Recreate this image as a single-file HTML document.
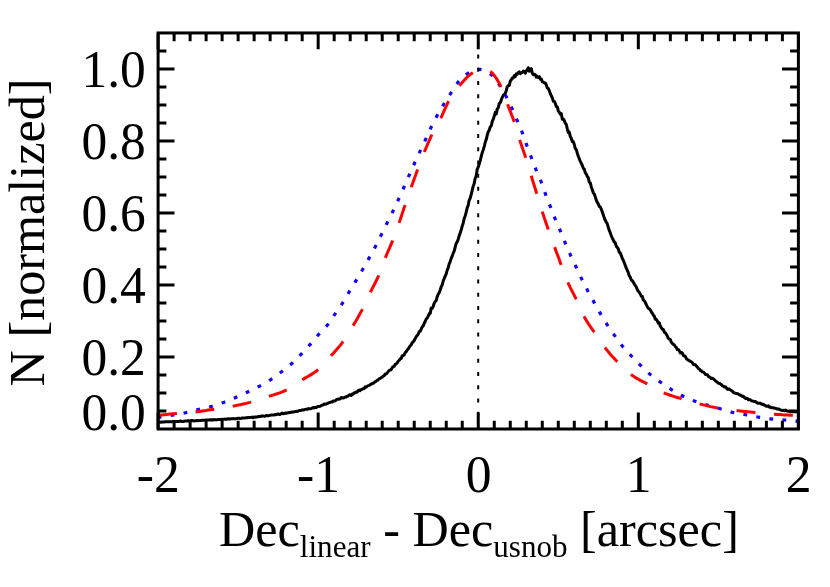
<!DOCTYPE html>
<html><head><meta charset="utf-8"><title>plot</title>
<style>
html,body{margin:0;padding:0;background:#fff;}
svg{display:block;}
text{font-family:"Liberation Serif",serif;font-size:50.2px;fill:#000;white-space:pre;}
</style></head>
<body>
<svg style="will-change:transform" width="830" height="587" viewBox="0 0 830 587">
<rect width="830" height="587" fill="#fff"/>
<path d="M158.1 422.1 L159.1 422.0 L160.1 422.0 L161.1 422.2 L162.1 421.9 L163.1 421.9 L164.1 422.0 L165.1 421.8 L166.1 421.8 L167.1 421.8 L168.1 421.8 L169.1 421.7 L170.1 421.8 L171.1 421.7 L172.1 421.7 L173.1 421.5 L174.1 421.5 L175.1 421.5 L176.1 421.6 L177.1 421.5 L178.1 421.4 L179.1 421.4 L180.1 421.1 L181.1 421.1 L182.1 421.6 L183.1 421.5 L184.1 421.2 L185.1 421.1 L186.1 421.0 L187.1 421.0 L188.1 420.6 L189.1 421.1 L190.1 420.9 L191.1 420.5 L192.1 420.7 L193.1 420.6 L194.1 420.8 L195.1 420.9 L196.1 420.6 L197.1 420.5 L198.1 420.7 L199.1 420.6 L200.1 420.4 L201.1 420.5 L202.1 420.3 L203.1 420.3 L204.1 420.2 L205.1 420.3 L206.1 420.0 L207.1 419.9 L208.1 420.0 L209.1 420.1 L210.1 419.8 L211.1 420.0 L212.1 419.7 L213.1 420.0 L214.1 419.6 L215.1 419.7 L216.1 419.9 L217.1 419.7 L218.1 419.6 L219.1 419.5 L220.1 419.6 L221.1 419.6 L222.1 419.3 L223.1 419.4 L224.1 419.2 L225.1 419.1 L226.1 419.4 L227.1 419.0 L228.1 418.8 L229.1 419.0 L230.1 419.1 L231.1 418.7 L232.1 418.8 L233.1 418.6 L234.1 418.7 L235.1 418.9 L236.1 418.6 L237.1 418.6 L238.1 418.3 L239.1 418.3 L240.1 418.6 L241.1 418.4 L242.1 418.0 L243.1 417.9 L244.1 418.1 L245.1 417.9 L246.1 417.7 L247.1 417.7 L248.1 417.5 L249.1 417.5 L250.1 417.5 L251.1 417.4 L252.1 417.1 L253.1 417.7 L254.1 417.1 L255.1 417.0 L256.1 417.2 L257.1 416.8 L258.1 416.8 L259.1 416.4 L260.1 416.5 L261.1 416.2 L262.1 416.0 L263.1 416.1 L264.1 416.2 L265.2 416.2 L266.2 415.4 L267.2 415.7 L268.2 415.7 L269.2 415.4 L270.2 415.3 L271.2 415.0 L272.2 415.0 L273.2 414.9 L274.2 414.9 L275.2 414.5 L276.2 414.7 L277.2 414.2 L278.2 413.9 L279.2 414.4 L280.2 414.5 L281.2 413.6 L282.2 413.1 L283.2 413.7 L284.2 413.6 L285.2 413.0 L286.2 413.2 L287.2 413.0 L288.2 412.8 L289.2 412.4 L290.2 412.5 L291.2 412.2 L292.2 412.1 L293.2 412.1 L294.2 411.8 L295.2 411.7 L296.2 411.3 L297.2 411.4 L298.2 411.2 L299.2 410.4 L300.2 410.5 L301.2 410.3 L302.2 410.0 L303.2 410.0 L304.2 409.7 L305.2 409.4 L306.2 409.2 L307.2 409.4 L308.2 408.6 L309.2 408.8 L310.2 408.7 L311.2 408.5 L312.2 408.1 L313.2 407.4 L314.2 407.9 L315.2 407.3 L316.2 407.7 L317.2 406.9 L318.2 406.4 L319.2 406.4 L320.2 406.2 L321.2 405.6 L322.2 405.2 L323.2 404.8 L324.2 404.1 L325.2 404.2 L326.2 404.1 L327.2 403.5 L328.2 403.1 L329.2 402.7 L330.2 402.3 L331.2 401.9 L332.2 402.1 L333.2 400.9 L334.2 401.0 L335.2 400.8 L336.2 399.9 L337.2 399.3 L338.2 399.3 L339.2 399.0 L340.2 399.0 L341.2 397.5 L342.2 397.8 L343.2 398.0 L344.2 397.6 L345.2 396.9 L346.2 397.1 L347.2 396.2 L348.2 396.0 L349.2 395.0 L350.2 394.7 L351.2 395.5 L352.2 394.1 L353.2 394.2 L354.2 392.8 L355.2 392.7 L356.2 392.0 L357.2 392.1 L358.2 390.6 L359.2 390.0 L360.2 390.6 L361.2 389.5 L362.2 389.3 L363.2 388.6 L364.2 388.5 L365.2 386.8 L366.2 387.2 L367.2 386.4 L368.2 385.6 L369.2 385.4 L370.2 384.7 L371.2 384.2 L372.2 383.5 L373.2 383.3 L374.2 382.4 L375.2 381.7 L376.2 381.1 L377.2 380.3 L378.2 379.8 L379.2 378.7 L380.2 378.4 L381.2 377.6 L382.2 377.1 L383.2 376.2 L384.2 375.7 L385.2 374.1 L386.2 374.0 L387.2 372.9 L388.2 371.5 L389.2 370.6 L390.2 369.9 L391.2 369.7 L392.2 367.6 L393.2 366.6 L394.2 366.3 L395.2 364.3 L396.2 363.8 L397.2 362.9 L398.2 361.3 L399.2 360.3 L400.2 358.9 L401.2 358.6 L402.2 355.7 L403.2 355.7 L404.2 354.8 L405.2 352.5 L406.2 351.6 L407.2 350.0 L408.2 348.9 L409.2 347.4 L410.2 345.8 L411.2 344.9 L412.2 342.7 L413.2 341.8 L414.2 340.5 L415.2 338.5 L416.2 336.7 L417.2 335.5 L418.2 334.2 L419.2 331.7 L420.2 331.4 L421.2 329.2 L422.2 326.9 L423.2 325.9 L424.2 323.3 L425.2 321.5 L426.2 319.0 L427.2 318.2 L428.2 316.2 L429.2 313.7 L430.2 313.4 L431.2 308.0 L432.2 308.4 L433.2 306.3 L434.2 303.2 L435.2 301.6 L436.2 300.5 L437.2 296.7 L438.2 294.2 L439.2 292.6 L440.2 290.0 L441.2 286.7 L442.2 284.9 L443.2 281.1 L444.2 278.4 L445.2 276.1 L446.2 273.8 L447.2 270.2 L448.2 267.9 L449.2 263.8 L450.2 261.6 L451.2 258.4 L452.2 256.1 L453.2 253.1 L454.2 251.1 L455.2 247.1 L456.2 243.3 L457.2 241.9 L458.2 239.2 L459.2 235.8 L460.2 233.0 L461.2 230.0 L462.2 226.1 L463.2 223.2 L464.2 218.3 L465.2 216.0 L466.2 212.1 L467.2 207.9 L468.2 205.3 L469.2 200.1 L470.2 198.2 L471.2 194.5 L472.2 190.3 L473.2 186.2 L474.2 183.5 L475.2 178.3 L476.2 176.0 L477.2 169.3 L478.3 166.9 L479.3 163.7 L480.3 160.3 L481.3 156.2 L482.3 152.4 L483.3 149.7 L484.3 146.1 L485.3 142.1 L486.3 139.3 L487.3 134.9 L488.3 131.7 L489.3 129.9 L490.3 126.7 L491.3 125.7 L492.3 121.1 L493.3 119.1 L494.3 116.0 L495.3 112.4 L496.3 113.9 L497.3 108.9 L498.3 107.7 L499.3 103.3 L500.3 102.8 L501.3 99.8 L502.3 97.3 L503.3 95.4 L504.3 94.4 L505.3 93.3 L506.3 90.5 L507.3 86.7 L508.3 85.6 L509.3 85.5 L510.3 81.0 L511.3 79.8 L512.3 77.9 L513.3 78.0 L514.3 75.6 L515.3 76.6 L516.3 73.9 L517.3 74.3 L518.3 72.5 L519.3 71.9 L520.3 73.6 L521.3 72.7 L522.3 72.5 L523.3 71.1 L524.3 71.5 L525.3 73.2 L526.3 70.9 L527.3 69.9 L528.3 67.7 L529.3 71.3 L530.3 69.9 L531.3 68.6 L532.3 73.2 L533.3 74.8 L534.3 74.3 L535.3 74.6 L536.3 77.1 L537.3 76.4 L538.3 77.5 L539.3 76.7 L540.3 79.1 L541.3 78.9 L542.3 81.8 L543.3 82.0 L544.3 83.0 L545.3 82.9 L546.3 84.9 L547.3 88.0 L548.3 88.5 L549.3 90.6 L550.3 93.6 L551.3 95.8 L552.3 97.7 L553.3 101.3 L554.3 101.4 L555.3 103.4 L556.3 106.5 L557.3 106.9 L558.3 111.0 L559.3 112.2 L560.3 114.1 L561.3 113.6 L562.3 119.2 L563.3 119.0 L564.3 120.6 L565.3 123.2 L566.3 124.5 L567.3 128.9 L568.3 132.6 L569.3 132.1 L570.3 136.6 L571.3 138.2 L572.3 141.5 L573.3 141.8 L574.3 144.5 L575.3 148.6 L576.3 149.7 L577.3 153.2 L578.3 156.2 L579.3 158.7 L580.3 161.5 L581.3 163.1 L582.3 165.6 L583.3 168.3 L584.3 169.2 L585.3 172.8 L586.3 174.1 L587.3 176.3 L588.3 177.8 L589.3 182.2 L590.3 182.8 L591.3 186.9 L592.3 189.8 L593.3 192.8 L594.3 194.1 L595.3 196.9 L596.3 200.2 L597.3 202.4 L598.3 204.1 L599.3 206.4 L600.3 207.1 L601.3 209.2 L602.3 212.0 L603.3 214.9 L604.3 218.1 L605.3 220.3 L606.3 222.2 L607.3 223.8 L608.3 227.3 L609.3 230.7 L610.3 232.9 L611.3 235.7 L612.3 238.3 L613.3 240.1 L614.3 242.0 L615.3 242.9 L616.3 246.4 L617.3 247.4 L618.3 249.0 L619.3 252.2 L620.3 253.0 L621.3 255.6 L622.3 258.5 L623.3 260.2 L624.3 262.8 L625.3 265.5 L626.3 268.1 L627.3 270.4 L628.3 272.7 L629.3 275.9 L630.3 277.2 L631.3 280.1 L632.3 280.6 L633.3 282.1 L634.3 284.0 L635.3 285.6 L636.3 287.0 L637.3 289.6 L638.3 291.2 L639.3 292.5 L640.3 294.0 L641.3 296.2 L642.3 296.5 L643.3 300.0 L644.3 300.9 L645.3 302.3 L646.3 304.7 L647.3 306.7 L648.3 308.3 L649.3 308.9 L650.3 309.8 L651.3 311.8 L652.3 313.3 L653.3 315.1 L654.3 316.1 L655.3 319.2 L656.3 319.3 L657.3 320.9 L658.3 323.2 L659.3 322.7 L660.3 326.2 L661.3 327.6 L662.3 329.2 L663.3 329.4 L664.3 332.1 L665.3 332.7 L666.3 334.3 L667.3 336.0 L668.3 338.3 L669.3 339.3 L670.3 339.4 L671.3 342.3 L672.3 343.4 L673.3 344.3 L674.3 345.0 L675.3 346.5 L676.3 347.4 L677.3 349.5 L678.3 349.5 L679.3 350.8 L680.3 352.9 L681.3 352.4 L682.3 353.0 L683.3 355.4 L684.3 356.0 L685.3 356.3 L686.3 358.5 L687.3 359.6 L688.3 360.1 L689.3 360.6 L690.3 361.5 L691.3 361.7 L692.4 362.8 L693.4 364.4 L694.4 364.5 L695.4 364.8 L696.4 366.1 L697.4 367.2 L698.4 368.5 L699.4 369.0 L700.4 370.7 L701.4 370.8 L702.4 371.9 L703.4 372.1 L704.4 373.0 L705.4 374.4 L706.4 374.5 L707.4 374.7 L708.4 376.4 L709.4 376.8 L710.4 377.6 L711.4 378.6 L712.4 378.3 L713.4 378.9 L714.4 379.8 L715.4 380.8 L716.4 381.6 L717.4 382.2 L718.4 383.3 L719.4 383.4 L720.4 384.0 L721.4 384.6 L722.4 385.8 L723.4 386.2 L724.4 386.9 L725.4 386.8 L726.4 388.0 L727.4 389.3 L728.4 389.0 L729.4 389.1 L730.4 390.0 L731.4 390.5 L732.4 391.3 L733.4 392.5 L734.4 393.0 L735.4 393.3 L736.4 393.4 L737.4 393.7 L738.4 394.0 L739.4 394.9 L740.4 394.9 L741.4 395.8 L742.4 396.4 L743.4 396.3 L744.4 397.4 L745.4 398.4 L746.4 398.3 L747.4 398.4 L748.4 399.8 L749.4 399.4 L750.4 399.8 L751.4 400.6 L752.4 401.0 L753.4 401.2 L754.4 401.6 L755.4 401.5 L756.4 402.2 L757.4 403.1 L758.4 403.3 L759.4 403.2 L760.4 403.2 L761.4 404.0 L762.4 404.4 L763.4 404.3 L764.4 405.2 L765.4 405.6 L766.4 406.2 L767.4 406.3 L768.4 405.9 L769.4 407.2 L770.4 407.1 L771.4 407.8 L772.4 407.7 L773.4 407.7 L774.4 408.3 L775.4 408.3 L776.4 408.6 L777.4 409.0 L778.4 408.9 L779.4 409.4 L780.4 409.9 L781.4 410.2 L782.4 410.4 L783.4 410.3 L784.4 410.7 L785.4 410.1 L786.4 410.5 L787.4 411.1 L788.4 411.3 L789.4 410.9 L790.4 411.9 L791.4 411.6 L792.4 411.3 L793.4 411.8 L794.4 411.7 L795.4 411.8 L796.4 411.5 L797.4 411.7 L798.4 411.6" fill="none" stroke="#000" stroke-width="3" stroke-linejoin="round"/>
<path d="M158.1 417.3 L160.1 417.1 L162.1 416.8 L164.1 416.5 L166.1 416.2 L168.1 415.9 L170.1 415.6 L172.1 415.2 L174.1 414.9 L176.1 414.5 L178.1 414.1 L180.1 413.8 L182.1 413.4 L184.1 413.0 L186.1 412.6 L188.1 412.1 L190.1 411.6 L192.1 411.1 L194.1 410.6 L196.1 410.1 L198.1 409.6 L200.1 409.1 L202.1 408.7 L204.1 408.2 L206.1 407.7 L208.1 407.3 L210.1 406.8 L212.1 406.2 L214.1 405.6 L216.1 405.0 L218.1 404.4 L220.1 403.7 L222.1 403.0 L224.1 402.3 L226.1 401.5 L228.1 400.7 L230.1 399.9 L232.1 399.0 L234.1 398.2 L236.1 397.3 L238.1 396.4 L240.1 395.6 L242.1 394.6 L244.1 393.7 L246.1 392.8 L248.1 391.8 L250.1 390.9 L252.1 389.9 L254.1 388.9 L256.1 387.9 L258.1 386.9 L260.1 385.8 L262.1 384.7 L264.1 383.6 L266.2 382.5 L268.2 381.3 L270.2 380.0 L272.2 378.7 L274.2 377.3 L276.2 375.8 L278.2 374.3 L280.2 372.8 L282.2 371.3 L284.2 369.7 L286.2 368.2 L288.2 366.6 L290.2 364.9 L292.2 363.2 L294.2 361.3 L296.2 359.3 L298.2 357.3 L300.2 355.2 L302.2 353.1 L304.2 351.0 L306.2 348.8 L308.2 346.6 L310.2 344.4 L312.2 342.0 L314.2 339.6 L316.2 337.2 L318.2 334.9 L320.2 332.8 L322.2 330.8 L324.2 328.7 L326.2 326.5 L328.2 324.0 L330.2 321.2 L332.2 318.2 L334.2 315.2 L336.2 312.3 L338.2 309.5 L340.2 306.6 L342.2 303.6 L344.2 300.4 L346.2 297.0 L348.2 293.5 L350.2 290.2 L352.2 286.9 L354.2 283.7 L356.2 280.4 L358.2 277.0 L360.2 273.6 L362.2 270.2 L364.2 266.7 L366.2 263.2 L368.2 259.6 L370.2 256.1 L372.2 252.5 L374.2 248.9 L376.2 245.1 L378.2 241.1 L380.2 237.0 L382.2 233.0 L384.2 228.9 L386.2 224.8 L388.2 220.8 L390.2 216.8 L392.2 212.8 L394.2 208.6 L396.2 204.4 L398.2 200.0 L400.2 195.6 L402.2 191.1 L404.2 186.5 L406.2 182.0 L408.2 177.5 L410.2 172.9 L412.2 168.4 L414.2 164.0 L416.2 159.6 L418.2 155.2 L420.2 150.9 L422.2 146.6 L424.2 142.4 L426.2 138.1 L428.2 133.6 L430.2 129.1 L432.2 125.0 L434.2 121.0 L436.2 117.3 L438.2 113.7 L440.2 110.2 L442.2 106.8 L444.2 103.5 L446.2 100.3 L448.2 97.2 L450.2 94.2 L452.2 91.1 L454.2 87.9 L456.2 84.7 L458.2 82.1 L460.2 79.9 L462.2 77.9 L464.2 76.0 L466.2 74.5 L468.2 73.2 L470.2 72.2 L472.2 71.2 L474.2 70.3 L476.2 69.6 L478.2 69.3 L480.3 69.4 L482.3 69.9 L484.3 70.7 L486.3 71.6 L488.3 72.8 L490.3 74.0 L492.3 75.5 L494.3 77.7 L496.3 80.3 L498.3 83.2 L500.3 86.5 L502.3 89.9 L504.3 93.3 L506.3 96.8 L508.3 100.6 L510.3 104.7 L512.3 109.1 L514.3 113.7 L516.3 118.4 L518.3 123.1 L520.3 127.8 L522.3 132.7 L524.3 138.4 L526.3 144.1 L528.3 149.5 L530.3 154.8 L532.3 160.1 L534.3 165.5 L536.3 170.5 L538.3 175.0 L540.3 179.5 L542.3 184.9 L544.3 190.9 L546.3 196.4 L548.3 201.5 L550.3 206.5 L552.3 211.7 L554.3 216.8 L556.3 221.6 L558.3 226.2 L560.3 230.8 L562.3 235.8 L564.3 240.7 L566.3 245.5 L568.3 250.2 L570.3 254.7 L572.3 259.1 L574.3 263.3 L576.3 267.5 L578.3 271.8 L580.3 276.0 L582.3 280.2 L584.3 284.2 L586.3 288.1 L588.3 291.9 L590.3 295.6 L592.3 299.2 L594.3 302.8 L596.3 306.4 L598.3 309.9 L600.3 313.4 L602.3 316.8 L604.3 320.2 L606.3 323.4 L608.3 326.5 L610.3 329.5 L612.3 332.3 L614.3 335.1 L616.3 337.9 L618.3 340.7 L620.3 343.4 L622.3 346.0 L624.3 348.4 L626.3 350.6 L628.3 352.8 L630.3 354.9 L632.3 357.0 L634.3 359.1 L636.3 361.1 L638.3 363.2 L640.3 365.1 L642.3 367.1 L644.3 369.1 L646.3 371.0 L648.3 372.8 L650.3 374.5 L652.3 376.1 L654.3 377.7 L656.3 379.1 L658.3 380.5 L660.3 382.0 L662.3 383.4 L664.3 384.8 L666.3 386.2 L668.3 387.5 L670.3 388.8 L672.3 390.1 L674.3 391.3 L676.3 392.5 L678.3 393.7 L680.3 394.8 L682.3 395.8 L684.3 396.8 L686.3 397.7 L688.3 398.7 L690.3 399.5 L692.4 400.4 L694.4 401.1 L696.4 401.8 L698.4 402.5 L700.4 403.2 L702.4 403.8 L704.4 404.3 L706.4 404.9 L708.4 405.5 L710.4 406.0 L712.4 406.6 L714.4 407.1 L716.4 407.7 L718.4 408.2 L720.4 408.8 L722.4 409.4 L724.4 410.1 L726.4 410.7 L728.4 411.3 L730.4 411.9 L732.4 412.4 L734.4 412.8 L736.4 413.2 L738.4 413.5 L740.4 413.9 L742.4 414.2 L744.4 414.5 L746.4 414.9 L748.4 415.3 L750.4 415.7 L752.4 416.1 L754.4 416.5 L756.4 416.8 L758.4 417.2 L760.4 417.5 L762.4 417.8 L764.4 418.1 L766.4 418.4 L768.4 418.7 L770.4 418.9 L772.4 419.1 L774.4 419.3 L776.4 419.4 L778.4 419.6 L780.4 419.7 L782.4 419.9 L784.4 420.0 L786.4 420.2 L788.4 420.4 L790.4 420.6 L792.4 420.8 L794.4 421.0 L796.4 421.2 L798.4 421.4" fill="none" stroke="#1400ff" stroke-width="3.2" stroke-dasharray="3.8 9.345" stroke-dashoffset="0.5"/>
<path d="M158.1 415.4 L160.1 415.1 L162.1 414.9 L164.1 414.7 L166.1 414.5 L168.1 414.2 L170.1 414.0 L172.1 413.8 L174.1 413.7 L176.1 413.5 L178.1 413.3 L180.1 413.1 L182.1 413.0 L184.1 412.8 L186.1 412.7 L188.1 412.6 L190.1 412.4 L192.1 412.2 L194.1 412.1 L196.1 411.9 L198.1 411.6 L200.1 411.4 L202.1 411.1 L204.1 410.8 L206.1 410.5 L208.1 410.1 L210.1 409.8 L212.1 409.5 L214.1 409.2 L216.1 408.9 L218.1 408.6 L220.1 408.2 L222.1 407.9 L224.1 407.6 L226.1 407.3 L228.1 407.0 L230.1 406.6 L232.1 406.2 L234.1 405.9 L236.1 405.5 L238.1 405.1 L240.1 404.7 L242.1 404.3 L244.1 403.8 L246.1 403.4 L248.1 402.9 L250.1 402.4 L252.1 401.8 L254.1 401.3 L256.1 400.6 L258.1 400.0 L260.1 399.3 L262.1 398.7 L264.1 398.0 L266.2 397.3 L268.2 396.6 L270.2 395.9 L272.2 395.3 L274.2 394.6 L276.2 394.0 L278.2 393.3 L280.2 392.6 L282.2 391.8 L284.2 391.0 L286.2 390.1 L288.2 389.1 L290.2 387.9 L292.2 386.6 L294.2 385.2 L296.2 383.8 L298.2 382.4 L300.2 381.1 L302.2 379.8 L304.2 378.6 L306.2 377.4 L308.2 376.3 L310.2 375.1 L312.2 373.9 L314.2 372.6 L316.2 371.2 L318.2 369.6 L320.2 367.8 L322.2 365.8 L324.2 363.6 L326.2 361.3 L328.2 358.9 L330.2 356.6 L332.2 354.4 L334.2 352.2 L336.2 350.0 L338.2 347.7 L340.2 345.4 L342.2 342.8 L344.2 340.1 L346.2 337.1 L348.2 333.8 L350.2 330.5 L352.2 327.1 L354.2 323.8 L356.2 320.4 L358.2 316.9 L360.2 313.3 L362.2 309.6 L364.2 305.5 L366.2 301.2 L368.2 296.8 L370.2 292.5 L372.2 288.6 L374.2 284.8 L376.2 280.9 L378.2 276.7 L380.2 271.8 L382.2 266.3 L384.2 260.7 L386.2 255.6 L388.2 251.0 L390.2 246.4 L392.2 241.7 L394.2 236.5 L396.2 231.1 L398.2 225.4 L400.2 219.7 L402.2 213.6 L404.2 207.5 L406.2 201.7 L408.2 196.0 L410.2 190.2 L412.2 184.6 L414.2 179.0 L416.2 173.4 L418.2 168.0 L420.2 162.7 L422.2 157.5 L424.2 152.4 L426.2 147.5 L428.2 142.8 L430.2 138.3 L432.2 134.0 L434.2 130.2 L436.2 126.6 L438.2 123.0 L440.2 119.3 L442.2 115.2 L444.2 110.7 L446.2 106.1 L448.2 102.0 L450.2 98.5 L452.2 95.3 L454.2 92.4 L456.2 89.6 L458.2 87.1 L460.2 84.7 L462.2 82.4 L464.2 80.2 L466.2 78.1 L468.2 76.2 L470.2 74.5 L472.2 73.1 L474.2 71.9 L476.2 70.7 L478.2 69.7 L480.3 69.1 L482.3 69.0 L484.3 69.3 L486.3 69.9 L488.3 70.7 L490.3 71.6 L492.3 73.2 L494.3 75.4 L496.3 78.3 L498.3 81.6 L500.3 85.2 L502.3 89.4 L504.3 94.9 L506.3 100.9 L508.3 106.4 L510.3 111.5 L512.3 116.6 L514.3 122.1 L516.3 128.6 L518.3 135.5 L520.3 141.9 L522.3 147.7 L524.3 153.4 L526.3 159.5 L528.3 166.1 L530.3 172.9 L532.3 179.4 L534.3 185.8 L536.3 192.2 L538.3 198.8 L540.3 205.3 L542.3 211.8 L544.3 217.9 L546.3 223.8 L548.3 229.5 L550.3 235.2 L552.3 240.7 L554.3 246.2 L556.3 251.7 L558.3 257.1 L560.3 262.5 L562.3 267.8 L564.3 273.3 L566.3 278.5 L568.3 283.4 L570.3 287.6 L572.3 291.5 L574.3 295.4 L576.3 299.4 L578.3 303.8 L580.3 308.4 L582.3 312.9 L584.3 316.9 L586.3 320.4 L588.3 323.6 L590.3 326.5 L592.3 329.3 L594.3 332.2 L596.3 335.2 L598.3 338.2 L600.3 341.1 L602.3 344.0 L604.3 346.7 L606.3 349.3 L608.3 351.8 L610.3 354.2 L612.3 356.4 L614.3 358.6 L616.3 360.8 L618.3 362.8 L620.3 364.9 L622.3 366.9 L624.3 368.8 L626.3 370.7 L628.3 372.4 L630.3 374.1 L632.3 375.5 L634.3 376.8 L636.3 378.1 L638.3 379.2 L640.3 380.3 L642.3 381.3 L644.3 382.4 L646.3 383.4 L648.3 384.5 L650.3 385.6 L652.3 386.7 L654.3 387.9 L656.3 389.0 L658.3 390.1 L660.3 391.1 L662.3 392.1 L664.3 393.0 L666.3 393.8 L668.3 394.5 L670.3 395.3 L672.3 395.9 L674.3 396.6 L676.3 397.2 L678.3 397.8 L680.3 398.4 L682.3 399.1 L684.3 399.7 L686.3 400.3 L688.3 400.9 L690.3 401.4 L692.4 402.0 L694.4 402.6 L696.4 403.1 L698.4 403.6 L700.4 404.1 L702.4 404.6 L704.4 405.1 L706.4 405.6 L708.4 406.1 L710.4 406.6 L712.4 407.0 L714.4 407.4 L716.4 407.8 L718.4 408.1 L720.4 408.5 L722.4 408.8 L724.4 409.1 L726.4 409.3 L728.4 409.6 L730.4 409.8 L732.4 410.1 L734.4 410.3 L736.4 410.5 L738.4 410.8 L740.4 411.0 L742.4 411.2 L744.4 411.4 L746.4 411.6 L748.4 411.8 L750.4 412.0 L752.4 412.2 L754.4 412.4 L756.4 412.6 L758.4 412.8 L760.4 413.0 L762.4 413.2 L764.4 413.4 L766.4 413.6 L768.4 413.7 L770.4 413.9 L772.4 414.1 L774.4 414.2 L776.4 414.4 L778.4 414.5 L780.4 414.6 L782.4 414.8 L784.4 414.9 L786.4 415.0 L788.4 415.1 L790.4 415.2 L792.4 415.3 L794.4 415.4 L796.4 415.4 L798.4 415.5" fill="none" stroke="#ff0000" stroke-width="3" stroke-dasharray="18.9 18.7"/>
<line x1="478.2" y1="429.0" x2="478.2" y2="32.95" stroke="#000" stroke-width="2" stroke-dasharray="4 9.23"/>
<path d="M158.10 429.0 v-16.4 M158.10 32.95 v16.4 M174.11 429.0 v-8.3 M174.11 32.95 v8.3 M190.12 429.0 v-8.3 M190.12 32.95 v8.3 M206.12 429.0 v-8.3 M206.12 32.95 v8.3 M222.13 429.0 v-8.3 M222.13 32.95 v8.3 M238.14 429.0 v-8.3 M238.14 32.95 v8.3 M254.14 429.0 v-8.3 M254.14 32.95 v8.3 M270.15 429.0 v-8.3 M270.15 32.95 v8.3 M286.16 429.0 v-8.3 M286.16 32.95 v8.3 M302.17 429.0 v-8.3 M302.17 32.95 v8.3 M318.17 429.0 v-16.4 M318.17 32.95 v16.4 M334.18 429.0 v-8.3 M334.18 32.95 v8.3 M350.19 429.0 v-8.3 M350.19 32.95 v8.3 M366.20 429.0 v-8.3 M366.20 32.95 v8.3 M382.20 429.0 v-8.3 M382.20 32.95 v8.3 M398.21 429.0 v-8.3 M398.21 32.95 v8.3 M414.22 429.0 v-8.3 M414.22 32.95 v8.3 M430.23 429.0 v-8.3 M430.23 32.95 v8.3 M446.24 429.0 v-8.3 M446.24 32.95 v8.3 M462.24 429.0 v-8.3 M462.24 32.95 v8.3 M478.25 429.0 v-16.4 M478.25 32.95 v16.4 M494.26 429.0 v-8.3 M494.26 32.95 v8.3 M510.26 429.0 v-8.3 M510.26 32.95 v8.3 M526.27 429.0 v-8.3 M526.27 32.95 v8.3 M542.28 429.0 v-8.3 M542.28 32.95 v8.3 M558.29 429.0 v-8.3 M558.29 32.95 v8.3 M574.29 429.0 v-8.3 M574.29 32.95 v8.3 M590.30 429.0 v-8.3 M590.30 32.95 v8.3 M606.31 429.0 v-8.3 M606.31 32.95 v8.3 M622.32 429.0 v-8.3 M622.32 32.95 v8.3 M638.33 429.0 v-16.4 M638.33 32.95 v16.4 M654.33 429.0 v-8.3 M654.33 32.95 v8.3 M670.34 429.0 v-8.3 M670.34 32.95 v8.3 M686.35 429.0 v-8.3 M686.35 32.95 v8.3 M702.35 429.0 v-8.3 M702.35 32.95 v8.3 M718.36 429.0 v-8.3 M718.36 32.95 v8.3 M734.37 429.0 v-8.3 M734.37 32.95 v8.3 M750.38 429.0 v-8.3 M750.38 32.95 v8.3 M766.38 429.0 v-8.3 M766.38 32.95 v8.3 M782.39 429.0 v-8.3 M782.39 32.95 v8.3 M798.40 429.0 v-16.4 M798.40 32.95 v16.4 M158.1 411.00 h8.3 M798.4 411.00 h-8.3 M158.1 393.00 h8.3 M798.4 393.00 h-8.3 M158.1 374.99 h8.3 M798.4 374.99 h-8.3 M158.1 356.99 h16.4 M798.4 356.99 h-16.4 M158.1 338.99 h8.3 M798.4 338.99 h-8.3 M158.1 320.99 h8.3 M798.4 320.99 h-8.3 M158.1 302.98 h8.3 M798.4 302.98 h-8.3 M158.1 284.98 h16.4 M798.4 284.98 h-16.4 M158.1 266.98 h8.3 M798.4 266.98 h-8.3 M158.1 248.98 h8.3 M798.4 248.98 h-8.3 M158.1 230.97 h8.3 M798.4 230.97 h-8.3 M158.1 212.97 h16.4 M798.4 212.97 h-16.4 M158.1 194.97 h8.3 M798.4 194.97 h-8.3 M158.1 176.97 h8.3 M798.4 176.97 h-8.3 M158.1 158.97 h8.3 M798.4 158.97 h-8.3 M158.1 140.96 h16.4 M798.4 140.96 h-16.4 M158.1 122.96 h8.3 M798.4 122.96 h-8.3 M158.1 104.96 h8.3 M798.4 104.96 h-8.3 M158.1 86.96 h8.3 M798.4 86.96 h-8.3 M158.1 68.95 h16.4 M798.4 68.95 h-16.4 M158.1 50.95 h8.3 M798.4 50.95 h-8.3" fill="none" stroke="#000" stroke-width="3.0"/>
<rect x="158.1" y="32.95" width="640.3" height="396.05" fill="none" stroke="#000" stroke-width="3.0"/>
<text transform="translate(145.8,430.4) scale(1.025,1.06)" text-anchor="end">0.0</text>
<text transform="translate(145.8,375.2) scale(1.025,1.06)" text-anchor="end">0.2</text>
<text transform="translate(145.8,303.2) scale(1.025,1.06)" text-anchor="end">0.4</text>
<text transform="translate(145.8,231.2) scale(1.025,1.06)" text-anchor="end">0.6</text>
<text transform="translate(145.8,159.2) scale(1.025,1.06)" text-anchor="end">0.8</text>
<text transform="translate(145.8,87.2) scale(1.025,1.06)" text-anchor="end">1.0</text>
<text transform="translate(158.4,492.0) scale(1.03,1.06)" text-anchor="middle">-2</text>
<text transform="translate(318.5,492.0) scale(1.03,1.06)" text-anchor="middle">-1</text>
<text transform="translate(478.6,492.0) scale(1.03,1.06)" text-anchor="middle">0</text>
<text transform="translate(638.6,492.0) scale(1.03,1.06)" text-anchor="middle">1</text>
<text transform="translate(798.7,492.0) scale(1.03,1.06)" text-anchor="middle">2</text>
<text transform="translate(43.8,232.4) rotate(-90) scale(1,1.01)" text-anchor="middle">N [normalized]</text>
<text transform="translate(219.00,545.5) scale(1,1.01)" style="font-size:50.2px" xml:space="preserve">Dec</text>
<text transform="translate(299.81,557.3) scale(1,1.01)" style="font-size:31.1px" xml:space="preserve">linear</text>
<text transform="translate(370.61,545.5) scale(1,1.01)" style="font-size:50.2px" xml:space="preserve"> - Dec</text>
<text transform="translate(493.24,557.3) scale(1,1.01)" style="font-size:31.1px" xml:space="preserve">usnob</text>
<text transform="translate(567.54,545.5) scale(1,1.01)" style="font-size:50.2px" xml:space="preserve"> [arcsec]</text>
</svg>
</body></html>
